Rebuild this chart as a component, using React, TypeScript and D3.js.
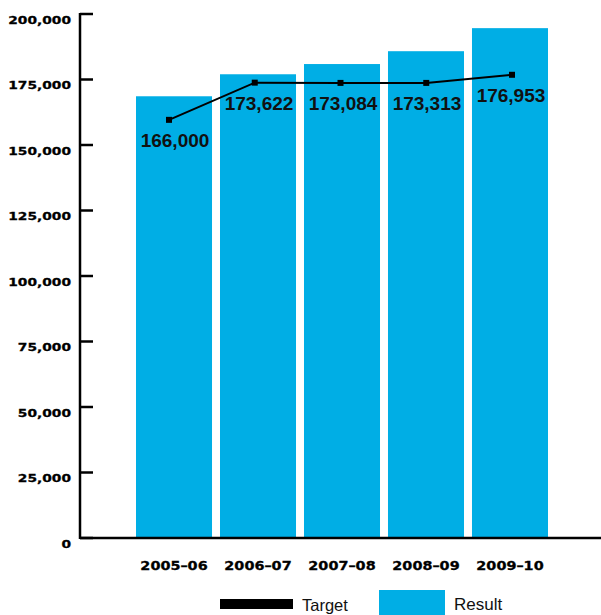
import React from "react";
import * as d3 from "d3";

const years = ["2005–06", "2006–07", "2007–08", "2008–09", "2009–10"];
const resultValues = [168600, 177000, 180900, 185800, 194600];
// where the target markers sit on the value axis (as drawn in the reference)
const targetPlotted = [159600, 173800, 173700, 173700, 176800];
const targetLabels = ["166,000", "173,622", "173,084", "173,313", "176,953"];
const yTicks = [0, 25000, 50000, 75000, 100000, 125000, 150000, 175000, 200000];
const legendItems = ["Target", "Result"];

const W = 601;
const H = 615;
const CYAN = "#00AEE5";
const axisFont = "'DejaVu Sans', Verdana, sans-serif";
const labelFont = "'Liberation Sans', Arial, sans-serif";

export default function App() {
  const y = d3.scaleLinear().domain([0, 200000]).range([538, 14]);
  const x = d3
    .scaleBand<string>()
    .domain(years)
    .range([132, 552])
    .paddingInner(0.095)
    .paddingOuter(0.0476);
  const xp = d3.scalePoint<string>().domain(years).range([169, 512]);
  const fmt = d3.format(",");

  const line = d3
    .line<number>()
    .x((_, i) => xp(years[i]) as number)
    .y((d) => y(d));

  const axisX = 80;

  return (
    <svg
      width={W}
      height={H}
      style={{ position: "absolute", left: 0, top: 0, background: "#fff" }}
    >
      {/* bars */}
      {resultValues.map((v, i) => (
        <rect
          key={"b" + i}
          x={x(years[i])}
          y={y(v)}
          width={x.bandwidth()}
          height={y(0) - y(v)}
          fill={CYAN}
        />
      ))}

      {/* y axis */}
      <line x1={axisX} x2={axisX} y1={y(200000) - 1} y2={y(0) + 1} stroke="#000" strokeWidth={2.5} />
      {yTicks.map((t) => (
        <g key={"t" + t}>
          <line x1={axisX} x2={axisX + 13} y1={y(t)} y2={y(t)} stroke="#000" strokeWidth={2.5} />
          <g transform={`translate(71,${y(t) + 9.5}) scale(1.22,1)`}>
            <text
              textAnchor="end"
              fontFamily={axisFont}
              fontWeight="bold"
              fontSize={11.3}
              fill="#000"
              stroke="#000"
              strokeWidth={0.3}
            >
              {fmt(t)}
            </text>
          </g>
        </g>
      ))}

      {/* x axis */}
      <line x1={axisX} x2={W} y1={y(0)} y2={y(0)} stroke="#000" strokeWidth={2.5} />
      {years.map((yr) => (
        <g
          key={"x" + yr}
          transform={`translate(${(x(yr) as number) + x.bandwidth() / 2},570) scale(1.2,1)`}
        >
          <text
            textAnchor="middle"
            fontFamily={axisFont}
            fontWeight="bold"
            fontSize={12}
            fill="#000"
            stroke="#000"
            strokeWidth={0.3}
          >
            {yr}
          </text>
        </g>
      ))}

      {/* target line */}
      <path d={line(targetPlotted) || ""} fill="none" stroke="#000" strokeWidth={2} />
      {targetPlotted.map((v, i) => (
        <rect
          key={"m" + i}
          x={(xp(years[i]) as number) - 3}
          y={y(v) - 3}
          width={6}
          height={6}
          fill="#000"
        />
      ))}
      {targetLabels.map((lab, i) => (
        <text
          key={"l" + i}
          x={(x(years[i]) as number) + x.bandwidth() / 2 + 1}
          y={y(targetPlotted[i]) + 27}
          textAnchor="middle"
          fontFamily={labelFont}
          fontWeight="bold"
          fontSize={19}
          fill="#111"
        >
          {lab}
        </text>
      ))}

      {/* legend */}
      <rect x={220} y={599} width={73} height={10} fill="#000" />
      <text x={302} y={611} fontFamily={labelFont} fontSize={16.5} fill="#111">
        {legendItems[0]}
      </text>
      <rect x={379} y={590} width={66} height={26} fill={CYAN} />
      <text x={454} y={610} fontFamily={labelFont} fontSize={17} fill="#111">
        {legendItems[1]}
      </text>
    </svg>
  );
}
